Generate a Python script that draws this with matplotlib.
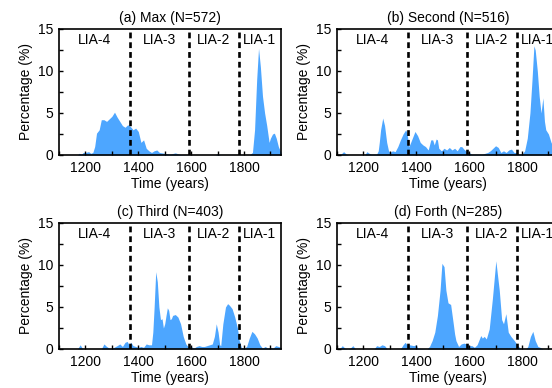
import matplotlib
matplotlib.use("Agg")
import matplotlib.pyplot as plt
from matplotlib.ticker import MultipleLocator

plt.rcParams['font.family'] = ['Liberation Sans', 'DejaVu Sans']

# period boundaries (years) and labels
bounds = [1370, 1590, 1780]
period_names = ['LIA-4', 'LIA-3', 'LIA-2', 'LIA-1']
period_centers = [1235, 1480, 1685, 1860]

titles = ['(a) Max (N=572)', '(b) Second (N=516)', '(c) Third (N=403)', '(d) Forth (N=285)']

# (a) Max
years_a = [1100, 1170, 1176, 1185, 1192, 1200, 1212, 1220, 1228, 1235, 1242, 1252, 1260,
           1270, 1280, 1290, 1300, 1310, 1320, 1330, 1340, 1350, 1360, 1370, 1380, 1390,
           1400, 1410, 1420, 1430, 1440, 1450, 1460, 1470, 1480, 1500, 1520, 1540, 1560,
           1600, 1690, 1700, 1710, 1820, 1832, 1840, 1848, 1855, 1862, 1870, 1878, 1886,
           1895, 1900, 1908, 1915, 1922, 1930, 1940]
pct_a = [0, 0, 0.2, 0.1, 0.3, 0.3, 0.4, 0.2, 0.3, 1.0, 2.6, 3.0, 4.2,
         4.2, 4.0, 4.3, 4.6, 5.1, 4.5, 4.0, 3.5, 3.3, 3.6, 3.4, 3.0, 3.2,
         2.8, 1.5, 1.8, 0.8, 0.5, 0.3, 0.5, 0.6, 0.3, 0.2, 0.1, 0.25, 0.05,
         0, 0, 0.15, 0, 0, 0.3, 3.0, 9.0, 12.7, 10.5, 7.0, 5.0, 3.5,
         1.5, 2.0, 2.5, 2.6, 2.0, 1.0, 0.3]

# (b) Second
years_b = [1100, 1115, 1125, 1135, 1145, 1205, 1213, 1222, 1230, 1250, 1256, 1260, 1265, 1273,
           1280, 1288, 1295, 1300, 1310, 1320, 1330, 1340, 1350, 1360, 1365, 1372, 1380,
           1395, 1405, 1415, 1425, 1435, 1445, 1455, 1462, 1468, 1475, 1480, 1485, 1495,
           1505, 1515, 1525, 1535, 1545, 1555, 1565, 1572, 1580, 1590, 1600, 1610, 1650,
           1670, 1680, 1690, 1700, 1710, 1720, 1730, 1740, 1750, 1760, 1770, 1780, 1790,
           1800, 1810, 1820, 1830, 1838, 1845, 1850, 1858, 1865, 1872, 1879, 1885, 1890,
           1900, 1910, 1918, 1930, 1940]
pct_b = [0, 0.1, 0.4, 0.1, 0, 0, 0.4, 0.2, 0.1, 0.1, 0.5, 1.5, 3.0, 4.4,
         3.5, 1.5, 0.5, 0.3, 0.5, 0.4, 1.0, 1.8, 2.5, 3.0, 2.6, 1.0, 1.6,
         2.8, 2.3, 1.5, 1.2, 1.0, 0.6, 1.8, 1.8, 1.2, 1.9, 1.8, 0.8, 0.5,
         0.8, 0.6, 0.9, 0.6, 0.8, 0.5, 1.0, 1.0, 0.7, 0.4, 0.3, 0.1, 0.1,
         0.3, 0.5, 0.8, 1.1, 0.9, 0.3, 0.5, 0.3, 0.6, 0.7, 0.3, 0.3, 0.1,
         0.1, 0.5, 2.0, 5.0, 9.0, 13.0, 12.5, 10.0, 7.0, 5.0, 6.8, 4.0, 3.0,
         2.5, 1.5, 1.0, 2.4, 1.0]

# (c) Third
years_c = [1100, 1170, 1180, 1190, 1260, 1270, 1280, 1290, 1300, 1320, 1330, 1340, 1350,
           1358, 1365, 1372, 1380, 1390, 1400, 1410, 1420, 1430, 1440, 1450, 1455, 1460,
           1466, 1472, 1478, 1484, 1490, 1495, 1500, 1505, 1510, 1515, 1520, 1525, 1530,
           1540, 1550, 1560, 1570, 1580, 1590, 1600, 1610, 1620, 1630, 1640, 1650, 1660,
           1670, 1680, 1688, 1695, 1702, 1708, 1712, 1720, 1730, 1738, 1745, 1755, 1765,
           1775, 1782, 1790, 1800, 1810, 1820, 1830, 1840, 1850, 1860, 1870, 1880, 1890,
           1900, 1910, 1920, 1930, 1940]
pct_c = [0, 0, 0.5, 0, 0, 0.6, 0.3, 0.1, 0.05, 0.4, 0.6, 0.3, 0.8,
         0.9, 0.5, 0.8, 0.4, 0.3, 0.2, 0.3, 0.2, 0.6, 0.5, 0.5, 2.0, 5.0,
         9.2, 8.0, 5.0, 3.5, 3.6, 2.5, 3.0, 4.0, 4.9, 4.6, 3.5, 3.6, 4.0,
         4.1, 3.8, 3.0, 1.5, 0.6, 0.2, 0.3, 0.1, 0.3, 0.4, 0.3, 0.3, 0.4,
         0.5, 0.6, 1.5, 3.0, 2.0, 0.5, 0.4, 3.0, 5.0, 5.4, 5.2, 4.8, 3.8,
         2.5, 1.0, 0.2, 0.1, 0.3, 1.3, 2.1, 1.8, 1.3, 0.5, 0.1, 0.3, 0.1,
         0.2, 0.1, 0.4, 0.3, 0.2]

# (d) Forth
years_d = [1100, 1112, 1120, 1130, 1140, 1150, 1160, 1170, 1240, 1250, 1260, 1270, 1280,
           1290, 1340, 1350, 1358, 1365, 1375, 1390, 1400, 1405, 1440, 1450, 1460, 1470,
           1480, 1490, 1497, 1505, 1512, 1520, 1530, 1540, 1545, 1550, 1560, 1570, 1580,
           1590, 1600, 1610, 1620, 1630, 1644, 1650, 1657, 1665, 1676, 1688, 1701, 1714,
           1723, 1730, 1739, 1748, 1758, 1771, 1784, 1796, 1815, 1822, 1832, 1841, 1850,
           1860, 1868, 1880, 1940]
pct_d = [0, 0.1, 0.4, 0.1, 0, 0.1, 0.4, 0, 0, 0.4, 0.3, 0.5, 0.4,
         0, 0, 0.5, 0.8, 0.5, 0.5, 0.4, 0.5, 0.1, 0, 0.3, 1.0, 2.0,
         4.0, 7.0, 10.2, 9.8, 7.0, 5.5, 5.3, 3.0, 1.8, 1.0, 0.3, 0.6, 0.7,
         0.6, 0.4, 0.4, 0.2, 0.5, 1.6, 1.3, 1.5, 1.2, 2.4, 6.0, 10.5, 7.0,
         3.5, 3.0, 4.2, 2.0, 1.5, 1.0, 0.4, 0, 0, 0.3, 1.5, 2.1, 1.0,
         0.3, 0.2, 0, 0]

FILL = '#4da6ff'


def draw_panel(ax, years, pct, title):
    ax.fill_between(years, pct, 0, color=FILL, linewidth=0)
    for b in bounds:
        ax.axvline(b, color='black', linestyle=(0, (2.2, 1.5)), linewidth=1.9)
    for name, c in zip(period_names, period_centers):
        ax.text(c, 13.75, name, ha='center', va='center', fontsize=10)
    ax.set_xlim(1100, 1940)
    ax.set_ylim(0, 15)
    ax.set_xticks([1200, 1400, 1600, 1800])
    ax.xaxis.set_minor_locator(MultipleLocator(100))
    ax.set_yticks([0, 5, 10, 15])
    ax.yaxis.set_minor_locator(MultipleLocator(2.5))
    ax.tick_params(which='both', direction='in', top=False, right=False,
                   length=3, width=1.0, labelsize=10, pad=4)
    for s in ax.spines.values():
        s.set_linewidth(1.2)
    ax.set_title(title, fontsize=10, pad=5)
    ax.set_xlabel('Time (years)', fontsize=10, labelpad=1.5)
    ax.set_ylabel('Percentage (%)', fontsize=10, labelpad=4)


fig = plt.figure(figsize=(5.52, 3.88), dpi=100)
W, H = 552.0, 388.0
boxes = [(59, 29), (337, 29), (59, 223), (337, 223)]
data = [(years_a, pct_a), (years_b, pct_b), (years_c, pct_c), (years_d, pct_d)]
for (x0, y0), (yrs, p), t in zip(boxes, data, titles):
    ax = fig.add_axes([x0 / W, 1 - (y0 + 126) / H, 222 / W, 126 / H])
    draw_panel(ax, yrs, p, t)

fig.savefig('out.png', dpi=100)
